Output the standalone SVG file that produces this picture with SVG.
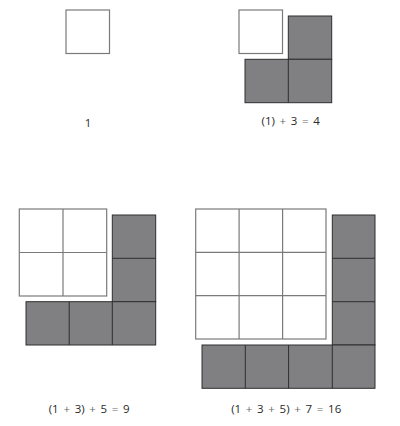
<svg xmlns="http://www.w3.org/2000/svg" width="400" height="426" viewBox="0 0 400 426">
<style>
.w{fill:#fff;stroke:#7a7a7a;stroke-width:1.2}
.g{fill:#808083;stroke:#2e2e2e;stroke-width:1}
.gl{stroke:#7a7a7a;stroke-width:1.2}
.gd{stroke:#2e2e2e;stroke-width:1}
text{font-family:"Open Sans","Liberation Sans",sans-serif;font-size:11.5px;fill:#2a2a2a;text-anchor:middle;word-spacing:1.7px}
.op{fill:#6a6a6a}
</style>
<rect width="400" height="426" fill="#fff"/>
<g id="fig1">
<rect class="w" x="66" y="10" width="43.5" height="43.5"/>
<text x="88" y="127">1</text>
</g>
<g id="fig2">
<rect class="w" x="239" y="10" width="43.5" height="43.5"/>
<rect class="g" x="288.3" y="16" width="43.4" height="43.3"/>
<rect class="g" x="245" y="59.3" width="86.7" height="43.4"/>
<line class="gd" x1="288.3" y1="59.3" x2="288.3" y2="102.7"/>
<text x="290.7" y="125">(1) <tspan class="op">+</tspan> 3 <tspan class="op">=</tspan> 4</text>
</g>
<g id="fig3">
<rect class="w" x="19.3" y="209" width="87.4" height="87"/>
<line class="gl" x1="63" y1="209" x2="63" y2="296"/>
<line class="gl" x1="19.3" y1="252.5" x2="106.7" y2="252.5"/>
<rect class="g" x="112.3" y="215" width="43.4" height="86.7"/>
<line class="gd" x1="112.3" y1="258.3" x2="155.7" y2="258.3"/>
<rect class="g" x="26" y="301.7" width="129.7" height="43.3"/>
<line class="gd" x1="69.2" y1="301.7" x2="69.2" y2="345"/>
<line class="gd" x1="112.3" y1="301.7" x2="112.3" y2="345"/>
<text x="89.2" y="413.3">(1 <tspan class="op">+</tspan> 3) <tspan class="op">+</tspan> 5 <tspan class="op">=</tspan> 9</text>
</g>
<g id="fig4">
<rect class="w" x="195.7" y="209" width="130.3" height="130"/>
<line class="gl" x1="239.1" y1="209" x2="239.1" y2="339"/>
<line class="gl" x1="282.6" y1="209" x2="282.6" y2="339"/>
<line class="gl" x1="195.7" y1="252.3" x2="326" y2="252.3"/>
<line class="gl" x1="195.7" y1="295.7" x2="326" y2="295.7"/>
<rect class="g" x="332.3" y="215" width="42.7" height="130"/>
<line class="gd" x1="332.3" y1="258.3" x2="375" y2="258.3"/>
<line class="gd" x1="332.3" y1="301.7" x2="375" y2="301.7"/>
<rect class="g" x="202" y="345" width="173" height="43.3"/>
<line class="gd" x1="245.3" y1="345" x2="245.3" y2="388.3"/>
<line class="gd" x1="288.6" y1="345" x2="288.6" y2="388.3"/>
<line class="gd" x1="332.3" y1="345" x2="332.3" y2="388.3"/>
<text x="286.2" y="413.3">(1 <tspan class="op">+</tspan> 3 <tspan class="op">+</tspan> 5) <tspan class="op">+</tspan> 7 <tspan class="op">=</tspan> 16</text>
</g>
</svg>
